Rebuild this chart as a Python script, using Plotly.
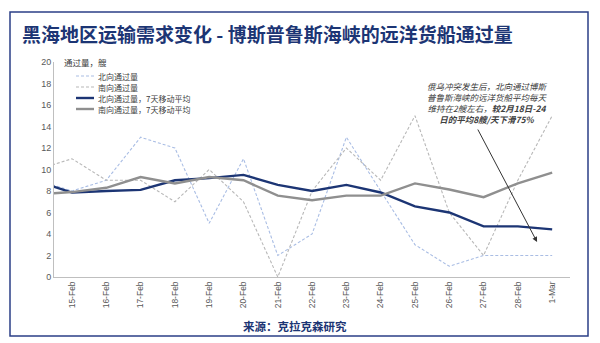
import plotly.graph_objects as go

# ---- data ----
dates = ["14-Feb", "15-Feb", "16-Feb", "17-Feb", "18-Feb", "19-Feb", "20-Feb", "21-Feb",
         "22-Feb", "23-Feb", "24-Feb", "25-Feb", "26-Feb", "27-Feb", "28-Feb", "1-Mar"]
north = [9, 8, 9, 13, 12, 5, 11, 2, 4, 13, 8, 3, 1, 2, 2, 2]
south = [10, 11, 9, 9, 7, 10, 7, 0, 8, 12, 9, 15, 6, 2, 9, 15]
north_ma = [8.9, 7.85, 8.0, 8.1, 9.0, 9.2, 9.5, 8.57, 8.0, 8.57, 7.86, 6.57, 6.0, 4.71, 4.71, 4.43]
south_ma = [7.7, 7.9, 8.3, 9.3, 8.7, 9.3, 9.0, 7.57, 7.14, 7.57, 7.57, 8.71, 8.14, 7.43, 8.71, 9.71]
tick_labels = dates[1:]
y_ticks = list(range(0, 21, 2))

names = ["北向通过量", "南向通过量", "北向通过量，7天移动平均", "南向通过量，7天移动平均"]

NAVY = "#1c3574"
FONT = "Arial, Liberation Sans, Noto Sans CJK SC"
CJK = "Noto Sans CJK SC, Arial"

styles = [
    dict(color="#a9bde4", width=1.1, dash="3px,2px"),
    dict(color="#b8b8b8", width=1.1, dash="3px,2px"),
    dict(color=NAVY, width=2.4),
    dict(color="#8f8f8f", width=2.4),
]
series = [north, south, north_ma, south_ma]

fig = go.Figure()
for name, ys, st in zip(names, series, styles):
    fig.add_trace(go.Scatter(x=dates, y=ys, mode="lines", name=name, line=st,
                             showlegend=False))

L, R, T, B = 54, 30, 62, 66
W, H = 600, 343
pw, ph = W - L - R, H - T - B

def px(xp):
    return (xp - L) / pw

def py(yp):
    return (H - B - yp) / ph

fig.update_layout(
    width=W, height=H,
    margin=dict(l=L, r=R, t=T, b=B),
    paper_bgcolor="white", plot_bgcolor="white",
    showlegend=False,
    xaxis=dict(type="category", range=[0.475, 15.52], tickmode="array",
               tickvals=tick_labels, ticktext=tick_labels, tickangle=-90,
               showgrid=False, showline=True, linecolor="#bfbfbf", linewidth=1,
               ticks="", tickfont=dict(size=8.5, color="#595959", family=FONT)),
    yaxis=dict(range=[0, 20], tickvals=y_ticks, showgrid=False, zeroline=False,
               showline=True, linecolor="#bfbfbf", linewidth=1, ticks="",
               tickfont=dict(size=9, color="#595959", family=FONT)),
)

annotations = [
    dict(text="<b>黑海地区运输需求变化 - 博斯普鲁斯海峡的远洋货船通过量</b>",
         xref="paper", yref="paper", x=px(20), y=py(33), xanchor="left", yanchor="middle",
         showarrow=False, font=dict(size=19, color=NAVY, family=CJK)),
    dict(text="通过量，艘", xref="paper", yref="paper", x=px(62), y=py(62),
         xanchor="left", yanchor="middle", showarrow=False,
         font=dict(size=8.5, color="#404040", family=CJK)),
    dict(text="<b>来源：克拉克森研究</b>", xref="paper", yref="paper", x=px(295), y=py(326),
         xanchor="center", yanchor="middle", showarrow=False,
         font=dict(size=11.5, color=NAVY, family=CJK)),
    dict(text="<i>俄乌冲突发生后，北向通过博斯<br>普鲁斯海峡的远洋货船平均每天<br>维持在2艘左右，<b>较2月18日-24</b><br><b>日的平均8艘/天下滑75%</b></i>",
         xref="paper", yref="paper", x=px(487), y=py(102), xanchor="center", yanchor="middle",
         align="center", showarrow=False,
         font=dict(size=8.5, color="#404040", family=CJK)),
    dict(text="", x=14.56, y=3.26, xref="x", yref="y", ax=12.81, ay=13.86,
         axref="x", ayref="y", showarrow=True, arrowhead=2, arrowsize=1,
         arrowwidth=1, arrowcolor="#333333"),
]

# manual legend
leg_y = [76, 87, 98, 109]
for name, st, yy in zip(names, styles, leg_y):
    fig.add_shape(type="line", xref="paper", yref="paper",
                  x0=px(76), x1=px(94), y0=py(yy), y1=py(yy),
                  line=dict(color=st["color"], width=st["width"], dash=st.get("dash", "solid")))
    annotations.append(dict(text=name, xref="paper", yref="paper", x=px(96), y=py(yy),
                            xanchor="left", yanchor="middle", showarrow=False,
                            font=dict(size=8, color="#404040", family=CJK)))

fig.update_layout(annotations=annotations)

fig.add_shape(type="rect", xref="paper", yref="paper",
              x0=px(10), x1=px(588), y0=py(336), y1=py(12),
              line=dict(color="#2b3f87", width=1.5), fillcolor="rgba(0,0,0,0)")

fig.write_html("out.html")
